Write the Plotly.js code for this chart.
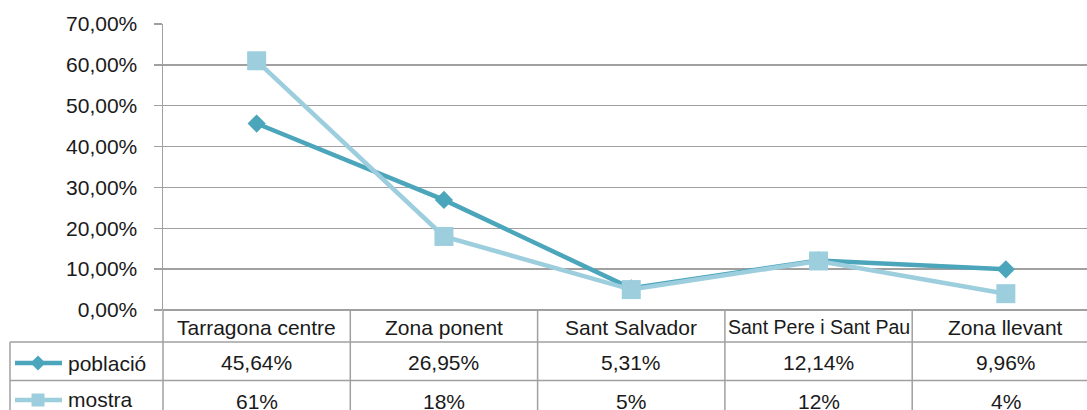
<!DOCTYPE html>
<html>
<head>
<meta charset="utf-8">
<script src="https://cdn.plot.ly/plotly-3.0.1.min.js"></script>
<style>html,body{margin:0;padding:0;background:#fff;}#chart{width:1087px;height:410px;}</style>
</head>
<body>
<div id="chart"></div>
<script>
// ---- data ----
var categories = ["Tarragona centre", "Zona ponent", "Sant Salvador", "Sant Pere i Sant Pau", "Zona llevant"];
var poblacio = [45.64, 26.95, 5.31, 12.14, 9.96];
var mostra = [61, 18, 5, 12, 4];
var seriesNames = ["població", "mostra"];
var poblacioDecimals = 2;
var mostraDecimals = 0;
var yTickVals = [0, 10, 20, 30, 40, 50, 60, 70];
var yTickDecimals = 2;

// ---- styling / geometry ----
var W = 1087, H = 410;
var L = 163, R = 0, T = 24, B = 100;
var plotW = W - L - R, plotH = H - T - B;
var colW = 187.3;
var cPob = '#4BA5BB', cMos = '#9DCEDE';
var gridC = '#a0a0a0';
var font = {family: 'Liberation Sans, Arial, sans-serif', size: 21, color: '#1a1a1a'};

function px2paperX(px) { return (px - L) / plotW; }
function px2paperY(py) { return (H - B - py) / plotH; }
function fmt(v, d) { return v.toFixed(d).replace('.', ',') + '%'; }

var xIdx = categories.map(function (c, i) { return i; });

var traces = [
  {x: xIdx, y: poblacio, name: seriesNames[0], type: 'scatter', mode: 'lines+markers',
   line: {color: cPob, width: 4.5}, marker: {symbol: 'diamond', size: 14, color: cPob}, hoverinfo: 'skip'},
  {x: xIdx, y: mostra, name: seriesNames[1], type: 'scatter', mode: 'lines+markers',
   line: {color: cMos, width: 4.5}, marker: {symbol: 'square', size: 19, color: cMos}, hoverinfo: 'skip'}
];

var shapes = [];
var annotations = [];
var yHdr = px2paperY(327), yR1 = px2paperY(362), yR2 = px2paperY(401);
var yTop = px2paperY(310), yL1 = px2paperY(342), yL2 = px2paperY(380.5), yBot = px2paperY(420);
var xLeft = px2paperX(10);
var lineStyle = {color: gridC, width: 1.5};

// table horizontal lines
[yL1, yL2].forEach(function (yy) {
  shapes.push({type: 'line', xref: 'paper', yref: 'paper', x0: xLeft, x1: 1.05, y0: yy, y1: yy, line: lineStyle, layer: 'above'});
});
// left border and axis continuation
shapes.push({type: 'line', xref: 'paper', yref: 'paper', x0: xLeft, x1: xLeft, y0: yL1, y1: yBot, line: lineStyle});
shapes.push({type: 'line', xref: 'paper', yref: 'paper', x0: 0, x1: 0, y0: yTop, y1: yBot, line: lineStyle});
// column dividers
for (var i = 0; i < categories.length; i++) {
  shapes.push({type: 'line', xref: 'x', yref: 'paper', x0: i + 0.5, x1: i + 0.5, y0: yTop, y1: yBot, line: lineStyle});
}

// header + values
categories.forEach(function (c, i) {
  annotations.push({xref: 'x', yref: 'paper', x: i, y: yHdr, text: c, showarrow: false,
    xanchor: 'center', yanchor: 'middle', font: Object.assign({}, font, {size: c.length > 18 ? 19.5 : 21})});
  annotations.push({xref: 'x', yref: 'paper', x: i, y: yR1, text: fmt(poblacio[i], poblacioDecimals), showarrow: false,
    xanchor: 'center', yanchor: 'middle', font: font});
  annotations.push({xref: 'x', yref: 'paper', x: i, y: yR2, text: fmt(mostra[i], mostraDecimals), showarrow: false,
    xanchor: 'center', yanchor: 'middle', font: font});
});

// legend keys in table
var legRows = [{y: 363, c: cPob, sym: 'diamond', name: seriesNames[0]}, {y: 400, c: cMos, sym: 'square', name: seriesNames[1]}];
legRows.forEach(function (r) {
  var yy = px2paperY(r.y);
  shapes.push({type: 'line', xref: 'paper', yref: 'paper', x0: px2paperX(15), x1: px2paperX(62), y0: yy, y1: yy,
    line: {color: r.c, width: 4.5}});
  var cx = 38, h = 7.5;
  if (r.sym === 'diamond') {
    var p = 'M' + px2paperX(cx - h) + ',' + px2paperY(r.y) + ' L' + px2paperX(cx) + ',' + px2paperY(r.y - h) +
            ' L' + px2paperX(cx + h) + ',' + px2paperY(r.y) + ' L' + px2paperX(cx) + ',' + px2paperY(r.y + h) + ' Z';
    shapes.push({type: 'path', xref: 'paper', yref: 'paper', path: p, fillcolor: r.c, line: {width: 0}});
  } else {
    shapes.push({type: 'rect', xref: 'paper', yref: 'paper', x0: px2paperX(cx - 6.5), x1: px2paperX(cx + 6.5),
      y0: px2paperY(r.y + 6.5), y1: px2paperY(r.y - 6.5), fillcolor: r.c, line: {width: 0}});
  }
  annotations.push({xref: 'paper', yref: 'paper', x: px2paperX(66), y: yy, text: r.name, showarrow: false,
    xanchor: 'left', yanchor: 'middle', font: font});
});

var layout = {
  width: W, height: H,
  margin: {l: L, r: R, t: T, b: B, pad: 0},
  paper_bgcolor: '#fff', plot_bgcolor: '#fff',
  showlegend: false,
  font: font,
  xaxis: {range: [-0.5, -0.5 + plotW / colW], showgrid: false, zeroline: false, showticklabels: false,
          ticks: '', showline: false, fixedrange: true},
  yaxis: {range: [0, 70], tickmode: 'array', tickvals: yTickVals,
          ticktext: yTickVals.map(function (v) { return fmt(v, yTickDecimals); }),
          showgrid: true, gridcolor: gridC, gridwidth: 1.5,
          zeroline: true, zerolinecolor: gridC, zerolinewidth: 1.5,
          showline: true, linecolor: gridC, linewidth: 1.5,
          ticks: 'outside', ticklen: 8, tickcolor: gridC, tickwidth: 1.5,
          ticklabelstandoff: 12, tickfont: font, fixedrange: true},
  shapes: shapes,
  annotations: annotations
};

Plotly.newPlot('chart', traces, layout, {staticPlot: true, displayModeBar: false});
</script>
</body>
</html>
